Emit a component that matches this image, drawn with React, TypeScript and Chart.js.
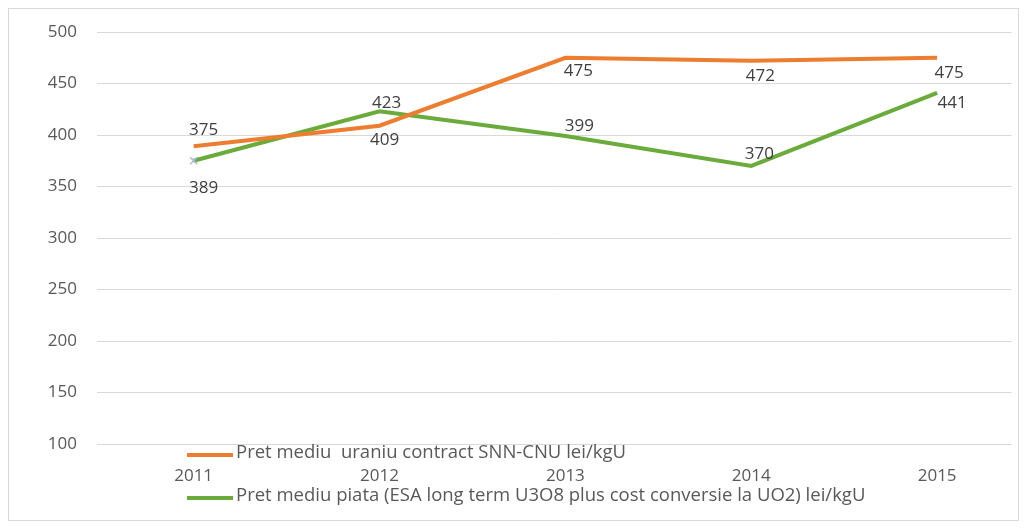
import React, { useEffect, useRef } from "react";
import { Chart, registerables } from "chart.js";

Chart.register(...registerables);

const categories = ["2011", "2012", "2013", "2014", "2015"];
const contractValues = [389, 409, 475, 472, 475];
const marketValues = [375, 423, 399, 370, 441];
const contractLabels = ["375", "409", "475", "472", "475"];
const marketLabels = ["389", "423", "399", "370", "441"];
const yTicks = [100, 150, 200, 250, 300, 350, 400, 450, 500];
const seriesNames = [
  "Pret mediu  uraniu contract SNN-CNU lei/kgU",
  "Pret mediu piata (ESA long term U3O8 plus cost conversie la UO2) lei/kgU",
];

// label offsets (dx, dy) relative to each point
const contractLabelOffsets = [[10, -16], [5, 14], [13, 13], [9, 15], [12, 15]];
const marketLabelOffsets = [[10, 27], [7, -8], [14, -10], [8, -12], [15, 10]];

const ORANGE = "#ED7D31";
const GREEN = "#6AAB3C";
const FONT = "'Open Sans', sans-serif";

const toPoints = (vals: number[]) => vals.map((v, i) => ({ x: i, y: v }));

const labelPlugin = {
  id: "pointLabels",
  afterDatasetsDraw(chart: any) {
    const ctx = chart.ctx;
    ctx.save();
    ctx.font = `17px ${FONT}`;
    ctx.fillStyle = "#404040";
    ctx.textAlign = "center";
    ctx.textBaseline = "middle";
    const sets = [
      { texts: contractLabels, offs: contractLabelOffsets },
      { texts: marketLabels, offs: marketLabelOffsets },
    ];
    sets.forEach((s, di) => {
      const meta = chart.getDatasetMeta(di);
      meta.data.forEach((pt: any, i: number) => {
        ctx.fillText(s.texts[i], pt.x + s.offs[i][0], pt.y + s.offs[i][1]);
      });
    });
    ctx.restore();
  },
};

const legendPlugin = {
  id: "customLegend",
  afterDraw(chart: any) {
    const ctx = chart.ctx;
    const a = chart.chartArea;
    ctx.save();
    ctx.font = `18.5px ${FONT}`;
    ctx.textBaseline = "middle";
    const items = [
      { color: ORANGE, text: seriesNames[0], y: a.bottom + 11 },
      { color: GREEN, text: seriesNames[1], y: a.bottom + 54 },
    ];
    items.forEach((it) => {
      const x0 = a.left + 90;
      ctx.strokeStyle = it.color;
      ctx.lineWidth = 4;
      ctx.beginPath();
      ctx.moveTo(x0, it.y);
      ctx.lineTo(x0 + 46, it.y);
      ctx.stroke();
      ctx.fillStyle = "#595959";
      ctx.fillText(it.text, x0 + 49, it.y - 2);
    });
    ctx.restore();
  },
};

export default function App() {
  const ref = useRef<HTMLCanvasElement | null>(null);
  useEffect(() => {
    if (!ref.current) return;
    const chart = new Chart(ref.current, {
      type: "line",
      data: {
        datasets: [
          {
            label: seriesNames[0],
            data: toPoints(contractValues),
            borderColor: ORANGE,
            backgroundColor: ORANGE,
            borderWidth: 4,
            pointRadius: 0,
            tension: 0,
          },
          {
            label: seriesNames[1],
            data: toPoints(marketValues),
            borderColor: GREEN,
            backgroundColor: GREEN,
            borderWidth: 4,
            pointRadius: [5, 0, 0, 0, 0],
            pointStyle: "crossRot",
            pointBorderColor: "#A9B8D6",
            pointBorderWidth: 1.5,
            tension: 0,
          },
        ],
      },
      options: {
        animation: false,
        responsive: false,
        layout: { padding: { top: 23, right: 6, bottom: 0, left: 0 } },
        plugins: {
          legend: { display: false },
          tooltip: { enabled: false },
        },
        scales: {
          x: {
            type: "linear",
            min: -0.52,
            max: 4.4,
            afterBuildTicks(scale: any) {
              scale.ticks = categories.map((_, i) => ({ value: i }));
            },
            grid: { display: false },
            border: { display: false },
            ticks: {
              color: "#595959",
              font: { family: FONT, size: 17 },
              padding: 14,
              maxRotation: 0,
              autoSkip: false,
              callback: (v: any) => categories[v] ?? "",
            },
            afterFit(scale: any) {
              scale.height = 76;
              scale.paddingLeft = 0;
              scale.paddingRight = 0;
            },
          },
          y: {
            min: 100,
            max: 500,
            afterBuildTicks(scale: any) {
              scale.ticks = yTicks.map((v) => ({ value: v }));
            },
            grid: { color: "#D9D9D9", lineWidth: 1, drawTicks: false },
            border: { display: false },
            ticks: {
              color: "#595959",
              font: { family: FONT, size: 17 },
              padding: 20,
            },
            afterFit(scale: any) {
              scale.width = 88;
              scale.paddingTop = 0;
              scale.paddingBottom = 0;
            },
          },
        },
      },
      plugins: [labelPlugin, legendPlugin],
    });
    return () => chart.destroy();
  }, []);
  return (
    <div
      style={{
        width: 1011,
        height: 513,
        border: "1px solid #D9D9D9",
        boxSizing: "border-box",
        background: "#fff",
      }}
    >
      <canvas ref={ref} width={1009} height={511} style={{ display: "block" }} />
    </div>
  );
}
